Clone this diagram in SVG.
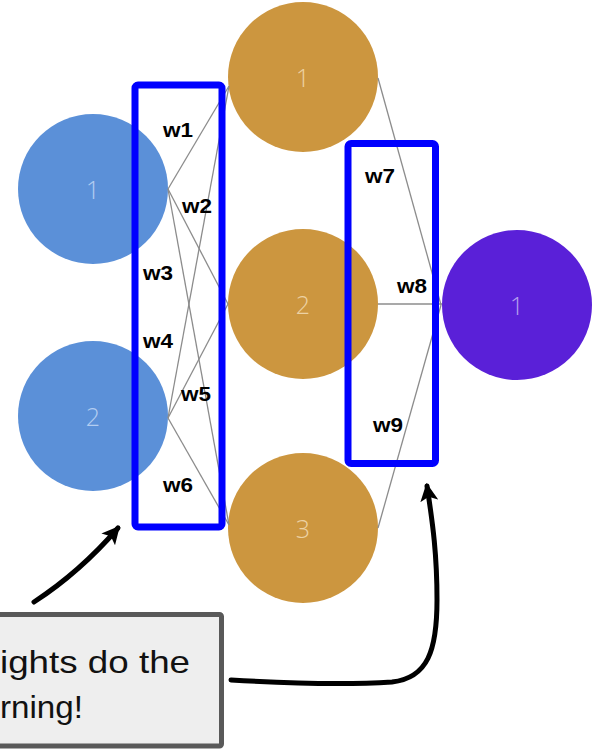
<svg xmlns="http://www.w3.org/2000/svg" width="596" height="750" viewBox="0 0 596 750">
  <defs>
    <style>
      .in { fill: #5b90d8; }
      .hid { fill: #cc963f; }
      .out { fill: #5a20d8; }
      .num { font-family: "Open Sans", "Liberation Sans", sans-serif; font-weight: 300; font-size: 25px; text-anchor: middle; dominant-baseline: central; }
      .num-in { fill: #b3cdf1; }
      .num-hid { fill: #ecd2a4; }
      .num-out { fill: #b7a1ee; }
      .link { stroke: #8c8c8c; stroke-width: 1.3; fill: none; }
      .box { fill: none; stroke: #0000ff; stroke-width: 7; }
      .w { font-family: "Liberation Sans", Arial, sans-serif; font-weight: bold; font-size: 20px; fill: #000; }
      .callout { fill: #eeeeee; stroke: #595959; stroke-width: 5; }
      .ctext { font-family: "Liberation Sans", Arial, sans-serif; font-size: 32px; fill: #111; }
      .pointer { fill: none; stroke: #000; stroke-width: 5; stroke-linecap: round; }
    </style>
    <marker id="head" viewBox="0 0 18 18" refX="15" refY="9" markerWidth="18" markerHeight="18" markerUnits="userSpaceOnUse" orient="auto">
      <path d="M0,0 L18,9 L0,18 L4,9 z" fill="#000"/>
    </marker>
  </defs>

  <!-- nodes -->
  <g id="input-1">
    <circle class="in" cx="93" cy="189" r="75"/>
    <text class="num num-in" x="93" y="189">1</text>
  </g>
  <g id="input-2">
    <circle class="in" cx="93" cy="416" r="75"/>
    <text class="num num-in" x="93" y="416">2</text>
  </g>
  <g id="hidden-1">
    <circle class="hid" cx="303" cy="77" r="75"/>
    <text class="num num-hid" x="303" y="77">1</text>
  </g>
  <g id="hidden-2">
    <circle class="hid" cx="303" cy="304" r="75"/>
    <text class="num num-hid" x="303" y="304">2</text>
  </g>
  <g id="hidden-3">
    <circle class="hid" cx="303" cy="528" r="75"/>
    <text class="num num-hid" x="303" y="528">3</text>
  </g>
  <g id="output-1">
    <circle class="out" cx="517" cy="305" r="75"/>
    <text class="num num-out" x="517" y="305">1</text>
  </g>

  <!-- connectors -->
  <g id="connectors">
    <line class="link" x1="168" y1="189" x2="229" y2="86"/>
    <line class="link" x1="168" y1="189" x2="228" y2="304"/>
    <line class="link" x1="168" y1="189" x2="229" y2="525"/>
    <line class="link" x1="168" y1="418" x2="229" y2="86"/>
    <line class="link" x1="168" y1="418" x2="228" y2="304"/>
    <line class="link" x1="168" y1="418" x2="229" y2="525"/>
    <line class="link" x1="378" y1="78" x2="441" y2="305"/>
    <line class="link" x1="378" y1="304" x2="442" y2="304"/>
    <line class="link" x1="378" y1="528" x2="441" y2="305"/>
  </g>

  <!-- weight groups -->
  <g id="weights-layer-1">
    <rect class="box" x="135" y="85" width="87" height="442" rx="3"/>
    <text class="w" x="163" y="137" textLength="30" lengthAdjust="spacingAndGlyphs">w1</text>
    <text class="w" x="182" y="213" textLength="30" lengthAdjust="spacingAndGlyphs">w2</text>
    <text class="w" x="143" y="280" textLength="30" lengthAdjust="spacingAndGlyphs">w3</text>
    <text class="w" x="143" y="348" textLength="30" lengthAdjust="spacingAndGlyphs">w4</text>
    <text class="w" x="181" y="401" textLength="30" lengthAdjust="spacingAndGlyphs">w5</text>
    <text class="w" x="163" y="492" textLength="30" lengthAdjust="spacingAndGlyphs">w6</text>
  </g>
  <g id="weights-layer-2">
    <rect class="box" x="348" y="143.5" width="87.5" height="320" rx="3"/>
    <text class="w" x="365" y="183" textLength="30" lengthAdjust="spacingAndGlyphs">w7</text>
    <text class="w" x="397" y="293" textLength="30" lengthAdjust="spacingAndGlyphs">w8</text>
    <text class="w" x="373" y="432" textLength="30" lengthAdjust="spacingAndGlyphs">w9</text>
  </g>

  <!-- callout -->
  <g id="callout">
    <rect class="callout" x="-10" y="614.5" width="231.5" height="131.5" rx="2"/>
    <text class="ctext" x="0" y="673" textLength="190" lengthAdjust="spacingAndGlyphs">ights do the</text>
    <text class="ctext" x="0" y="718" textLength="83" lengthAdjust="spacingAndGlyphs">rning!</text>
  </g>

  <!-- pointers -->
  <g id="pointers">
    <path class="pointer" d="M34,602 Q80,572 118,528" marker-end="url(#head)"/>
    <path class="pointer" d="M231,680 C300,684 360,684 392,682 C428,678 437,650 437,600 C437,555 433,525 427,486" marker-end="url(#head)"/>
  </g>
</svg>
